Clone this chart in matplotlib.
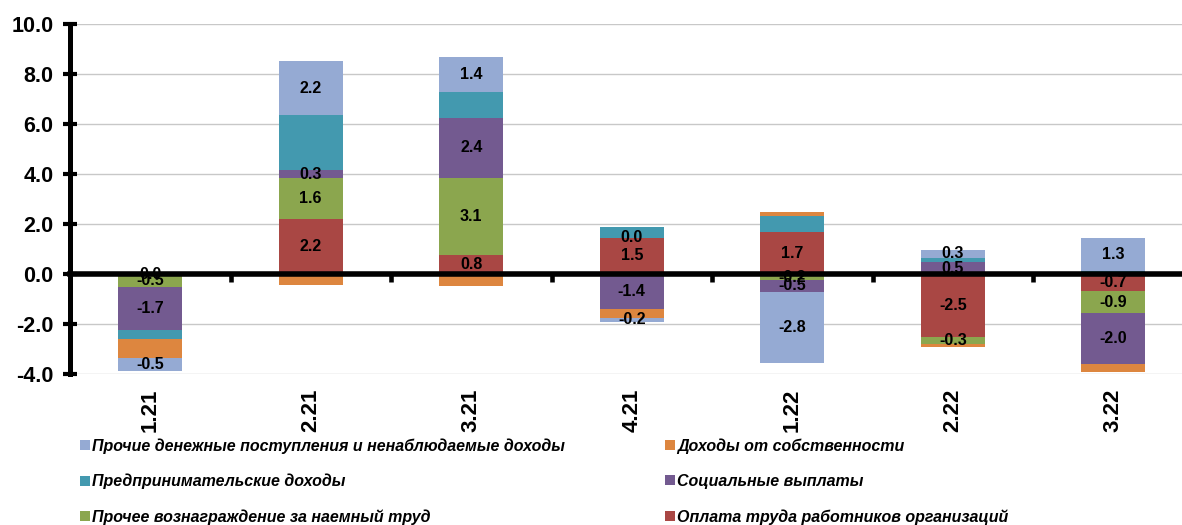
import matplotlib
matplotlib.use("Agg")
import matplotlib.pyplot as plt
import matplotlib.transforms as mtransforms
from matplotlib.patches import Patch
from matplotlib.font_manager import FontProperties

plt.rcParams['font.family'] = ['Liberation Sans', 'DejaVu Sans']

categories = ['1.21', '2.21', '3.21', '4.21', '1.22', '2.22', '3.22']

# stacking order from the baseline outward
wages = [0.0, 2.2, 0.76, 1.47, 1.69, -2.52, -0.67]          # Оплата труда работников организаций
other_comp = [-0.51, 1.64, 3.1, 0.0, -0.22, -0.27, -0.88]   # Прочее вознаграждение за наемный труд
social = [-1.7, 0.33, 2.4, -1.38, -0.48, 0.5, -2.03]        # Социальные выплаты
business = [-0.37, 2.19, 1.02, 0.42, 0.65, 0.17, 0.12]      # Предпринимательские доходы
property_inc = [-0.75, -0.44, -0.48, -0.36, 0.15, -0.1, -0.32]  # Доходы от собственности
other_money = [-0.52, 2.18, 1.43, -0.17, -2.83, 0.32, 1.34]  # Прочие денежные поступления и ненаблюдаемые доходы

series = [
    ('Оплата труда работников организаций', wages, '#A94744', True),
    ('Прочее вознаграждение за наемный труд', other_comp, '#8BA64E', True),
    ('Социальные выплаты', social, '#735A90', True),
    ('Предпринимательские доходы', business, '#4399AF', False),
    ('Доходы от собственности', property_inc, '#DD863F', False),
    ('Прочие денежные поступления и ненаблюдаемые доходы', other_money, '#95AAD3', True),
]

W, H = 1182, 525
fig = plt.figure(figsize=(W / 100, H / 100), dpi=100)
ax_left, ax_right, ax_top, ax_bot = 70, 1182, 24.3, 374.3
ax = fig.add_axes([ax_left / W, (H - ax_bot) / H, (ax_right - ax_left) / W, (ax_bot - ax_top) / H])

n = len(categories)
x = list(range(n))
pos_base = [0.0] * n
neg_base = [0.0] * n
bar_w = 0.4
handles = {}
for name, vals, color, labeled in series:
    bottoms = []
    for i, v in enumerate(vals):
        if v >= 0:
            bottoms.append(pos_base[i])
            pos_base[i] += v
        else:
            bottoms.append(neg_base[i])
            neg_base[i] += v
    ax.bar(x, vals, bottom=bottoms, width=bar_w, color=color, zorder=2, linewidth=0)
    handles[name] = Patch(facecolor=color, edgecolor='none')
    if labeled:
        for i, v in enumerate(vals):
            yc = bottoms[i] + v / 2
            ax.text(x[i], yc, f"{v:.1f}", ha='center', va='center', fontsize=11.5,
                    fontweight='bold', color='black', zorder=4)

ax.set_ylim(-4, 10)
ax.set_xlim(-0.5, (ax_right - ax_left) / 160.5 - 0.5)
ax.set_yticks([-4, -2, 0, 2, 4, 6, 8, 10])
ax.set_yticklabels([f"{v:.1f}" for v in [-4, -2, 0, 2, 4, 6, 8, 10]])
ax.yaxis.grid(True, color='#C8C8C8', linewidth=1.0, zorder=0)
ax.set_axisbelow(True)

for s in ['top', 'right']:
    ax.spines[s].set_visible(False)
ax.spines['left'].set_linewidth(3.6)
ax.spines['bottom'].set_position(('data', 0))
ax.spines['bottom'].set_linewidth(4.0)
ax.spines['bottom'].set_zorder(3)

ax.tick_params(axis='y', direction='inout', length=10, width=3.0, pad=7,
               labelsize=15.5)
for lab in ax.get_yticklabels():
    lab.set_fontweight('bold')

ax.set_xticks([i + 0.5 for i in range(n - 1)])
ax.set_xticklabels([])
ax.tick_params(axis='x', direction='out', length=5.5, width=3.3, color='black')

trans = mtransforms.blended_transform_factory(ax.transData, ax.transAxes)
for i, c in enumerate(categories):
    ax.text(x[i], -0.104, c, transform=trans, rotation=90, ha='center', va='center',
            fontsize=16, fontweight='bold')

fp = FontProperties(family=['Liberation Sans', 'DejaVu Sans'], weight='bold', style='italic', size=11.5)
col1 = ['Прочие денежные поступления и ненаблюдаемые доходы', 'Предпринимательские доходы',
        'Прочее вознаграждение за наемный труд']
col2 = ['Доходы от собственности', 'Социальные выплаты', 'Оплата труда работников организаций']
kw = dict(loc='center left', frameon=False, prop=fp, handlelength=0.6, handleheight=0.6,
          handletextpad=0.15, labelspacing=1.25, borderpad=0, borderaxespad=0)
leg1 = fig.legend([handles[k] for k in col1], col1, bbox_to_anchor=(80 / W, (H - 481.5) / H), **kw)
leg2 = fig.legend([handles[k] for k in col2], col2, bbox_to_anchor=(665 / W, (H - 481.5) / H), **kw)

fig.savefig('out.png', dpi=100)
